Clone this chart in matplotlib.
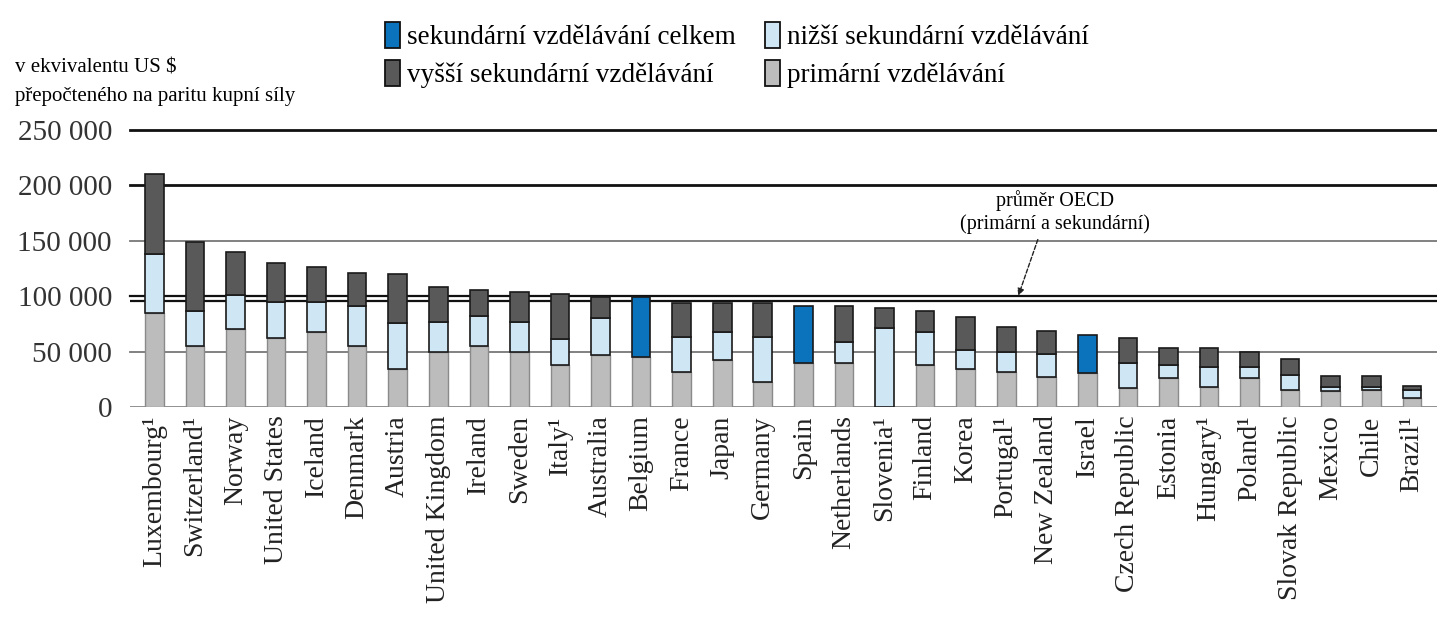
import matplotlib
matplotlib.use('Agg')
import matplotlib.pyplot as plt
from matplotlib.patches import Patch
import numpy as np

plt.rcParams['font.family'] = ['Liberation Serif', 'DejaVu Serif']

countries = ['Luxembourg¹', 'Switzerland¹', 'Norway', 'United States', 'Iceland',
             'Denmark', 'Austria', 'United Kingdom', 'Ireland', 'Sweden', 'Italy¹',
             'Australia', 'Belgium', 'France', 'Japan', 'Germany', 'Spain', 'Netherlands',
             'Slovenia¹', 'Finland', 'Korea', 'Portugal¹', 'New Zealand', 'Israel',
             'Czech Republic', 'Estonia', 'Hungary¹', 'Poland¹', 'Slovak Republic',
             'Mexico', 'Chile', 'Brazil¹']

# values in USD PPP (cumulative expenditure per student)
primary = [85000, 55000, 70000, 62000, 68000, 55000, 34000, 50000, 55000, 50000, 38000,
           47000, 45000, 32000, 42000, 23000, 40000, 40000, 0, 38000, 34000, 32000, 27000,
           31000, 17000, 26000, 18000, 26000, 15000, 14000, 15000, 8000]
lower_sec = [53000, 32000, 31000, 33000, 27000, 36000, 42000, 27000, 27000, 27000, 23000,
             33000, 0, 31000, 26000, 40000, 0, 19000, 71500, 30000, 17000, 18000, 21000,
             0, 23000, 12000, 18000, 10000, 14000, 4000, 3000, 7000]
upper_sec = [72000, 62000, 39000, 35000, 31000, 30000, 44000, 31000, 24000, 27000, 41000,
             19000, 0, 31000, 26000, 31000, 0, 32000, 17500, 19000, 30000, 22000, 21000,
             0, 22000, 15000, 17000, 14000, 14000, 10000, 10000, 4000]
total_sec = [0, 0, 0, 0, 0, 0, 0, 0, 0, 0, 0,
             0, 54000, 0, 0, 0, 51000, 0, 0, 0, 0, 0, 0,
             34000, 0, 0, 0, 0, 0, 0, 0, 0]
oecd_avg = 95500

yticks = [0, 50000, 100000, 150000, 200000, 250000]
legend_labels = ['sekundární vzdělávání celkem', 'vyšší sekundární vzdělávání',
                 'nižší sekundární vzdělávání', 'primární vzdělávání']

c_total = '#0b73bb'
c_upper = '#595959'
c_lower = '#cfe6f5'
c_prim = '#bcbcbc'

fig = plt.figure(figsize=(14.37, 6.17), dpi=100)
ax = fig.add_axes([130 / 1437, 210 / 617, 1 - 130 / 1437, 277 / 617])

x = np.arange(len(countries))
prim = np.array(primary)
low = np.array(lower_sec)
up = np.array(upper_sec)
tot = np.array(total_sec)

# gridlines
for yv, col, lw in [(250000, '#111111', 2.0), (200000, '#111111', 2.0),
                    (150000, '#777777', 1.3), (100000, '#111111', 1.6),
                    (50000, '#777777', 1.3)]:
    ax.axhline(yv, color=col, lw=lw, zorder=1, clip_on=False)
ax.axhline(oecd_avg, color='#111111', lw=1.6, zorder=1)
ax.axhline(0, color='#888888', lw=1.3, zorder=1)

w = 0.46
ax.bar(x, prim, w, color=c_prim, edgecolor='#8a8a8a', lw=1.0, zorder=3)
m = low > 0
ax.bar(x[m], low[m], w, bottom=prim[m], color=c_lower, edgecolor='#1a1a1a', lw=1.2, zorder=3)
m = up > 0
ax.bar(x[m], up[m], w, bottom=(prim + low)[m], color=c_upper, edgecolor='#1a1a1a',
       lw=1.2, zorder=3)
m = tot > 0
ax.bar(x[m], tot[m], w, bottom=prim[m], color=c_total, edgecolor='#1a1a1a', lw=1.2, zorder=3)

ax.set_xlim(-0.6, len(countries) - 1 + 0.62)
ax.set_ylim(0, 250000)
ax.set_yticks(yticks)
ax.set_yticklabels([f'{v:,}'.replace(',', ' ') for v in yticks], fontsize=21,
                   color='#333333')
ax.tick_params(axis='y', length=0, pad=13)
ax.set_xticks(x)
ax.set_xticklabels(countries, rotation=90, fontsize=20, color='#222222')
ax.tick_params(axis='x', length=0, pad=6)
for s in ax.spines.values():
    s.set_visible(False)

ax.annotate('průměr OECD\n(primární a sekundární)', xy=(21.3, 100500),
            xytext=(22.2, 156000), ha='center', va='bottom', fontsize=14.5,
            linespacing=1.2,
            arrowprops=dict(arrowstyle='-|>', color='#222222', lw=1.0,
                            linestyle=(0, (3, 1.5)), mutation_scale=10,
                            relpos=(0.42, 0.0), shrinkA=2, shrinkB=0))

fig.text(15 / 1437, 1 - 68 / 617, 'v ekvivalentu US $', fontsize=15, va='center')
fig.text(15 / 1437, 1 - 97 / 617, 'přepočteného na paritu kupní síly', fontsize=15,
         va='center')

handles = [Patch(facecolor=c, edgecolor='#111111', lw=1.3)
           for c in [c_total, c_upper, c_lower, c_prim]]
fig.legend(handles, legend_labels, loc='upper left', ncol=2,
           bbox_to_anchor=(366 / 1437, 1 - 3 / 617), frameon=False, fontsize=19.5,
           handlelength=0.55, handleheight=1.1, handletextpad=0.25,
           columnspacing=1.1, labelspacing=0.35, borderpad=0.2)

fig.savefig('out.png', dpi=100, facecolor='white')
